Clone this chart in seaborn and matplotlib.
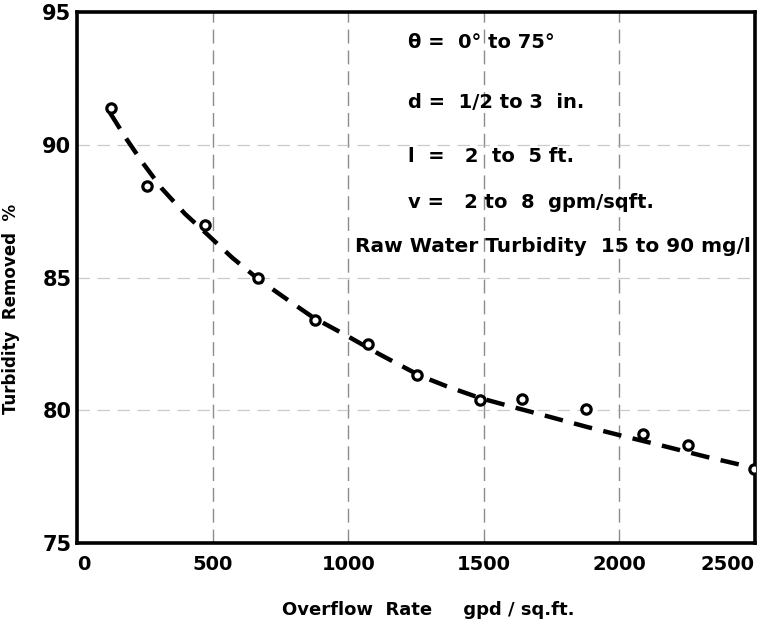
import matplotlib
matplotlib.use("Agg")
import matplotlib.pyplot as plt
import seaborn as sns
import pandas as pd

# Observed data points (overflow rate gpd/sq.ft., turbidity removed %)
point_x = [125, 258, 472, 667, 878, 1073, 1254, 1486, 1641, 1877, 2087, 2253, 2496]
point_y = [91.4, 88.45, 86.98, 84.98, 83.4, 82.5, 81.33, 80.39, 80.42, 80.05, 79.1, 78.69, 77.79]

# Fitted (dashed) curve
curve_x = [122, 177, 240, 313, 398, 483, 572, 667, 778, 870, 996, 1117, 1265, 1364,
           1486, 1608, 1718, 1881, 2013, 2176, 2323, 2500]
curve_y = [91.2, 90.3, 89.35, 88.35, 87.4, 86.6, 85.75, 84.95, 84.15, 83.5, 82.8, 82.1,
           81.3, 80.9, 80.46, 80.12, 79.82, 79.37, 79.03, 78.62, 78.24, 77.82]

x_ticks = [0, 500, 1000, 1500, 2000, 2500]
y_ticks = [75, 80, 85, 90, 95]

annotations = [
    "θ =  0° to 75°",
    "d =  1/2 to 3  in.",
    "l  =   2  to  5 ft.",
    "v =   2 to  8  gpm/sqft.",
    "Raw Water Turbidity  15 to 90 mg/l",
]

sns.set_style("white")
plt.rcParams["font.family"] = ["DejaVu Sans"]
plt.rcParams["font.weight"] = "bold"
plt.rcParams["text.color"] = "black"
plt.rcParams["axes.labelcolor"] = "black"
plt.rcParams["xtick.color"] = "black"
plt.rcParams["ytick.color"] = "black"

fig = plt.figure(figsize=(7.82, 6.21), dpi=100)
ax = fig.add_axes([77 / 782, 1 - 543 / 621, (755 - 77) / 782, (543 - 12) / 621])

pts = pd.DataFrame({"rate": point_x, "removed": point_y})
crv = pd.DataFrame({"rate": curve_x, "removed": curve_y})

sns.lineplot(data=crv, x="rate", y="removed", ax=ax, color="black", lw=3.2,
             linestyle=(0, (4.2, 2.6)), sort=False, zorder=3)
sns.scatterplot(data=pts, x="rate", y="removed", ax=ax, marker="o", s=45,
                facecolor="white", edgecolor="black", linewidth=2.3, zorder=4)

ax.set_xlim(0, 2500)
ax.set_ylim(75, 95)
ax.set_xticks(x_ticks)
ax.set_yticks(y_ticks)
ax.set_xticklabels([str(v) for v in x_ticks], fontsize=14, fontweight="bold")
ax.set_yticklabels([str(v) for v in y_ticks], fontsize=15, fontweight="bold")
xl = ax.get_xticklabels()
xl[0].set_ha("left")
xl[-1].set_ha("right")
ax.tick_params(axis="x", length=0, pad=9)
ax.tick_params(axis="y", length=0, pad=4)

ax.xaxis.grid(True, color="#707070", lw=1.0, linestyle=(0, (10, 5)), alpha=0.8)
ax.yaxis.grid(True, color="#b5b5b5", lw=0.9, linestyle=(0, (10, 6)), alpha=0.7)
for s in ax.spines.values():
    s.set_visible(True)
    s.set_color("black")
    s.set_linewidth(2.6)

ax.set_xlabel("Overflow  Rate     gpd / sq.ft.", fontsize=13, fontweight="bold")
ax.set_ylabel("Turbidity  Removed  %", fontsize=12, fontweight="bold")
ax.xaxis.set_label_coords((428 - 77) / 678, -(601 - 543) / 531)
ax.yaxis.set_label_coords((20 - 77) / 678, 1 - (309 - 12) / 531)

ann_pos = [(408, 42), (408, 103), (408, 157), (408, 203), (355, 247)]
for txt, (px, py) in zip(annotations, ann_pos):
    fig.text(px / 782, 1 - py / 621, txt, fontsize=14.5 if txt.startswith("Raw") else 14,
             fontweight="bold", ha="left", va="center")

fig.savefig("out.png", dpi=100)
